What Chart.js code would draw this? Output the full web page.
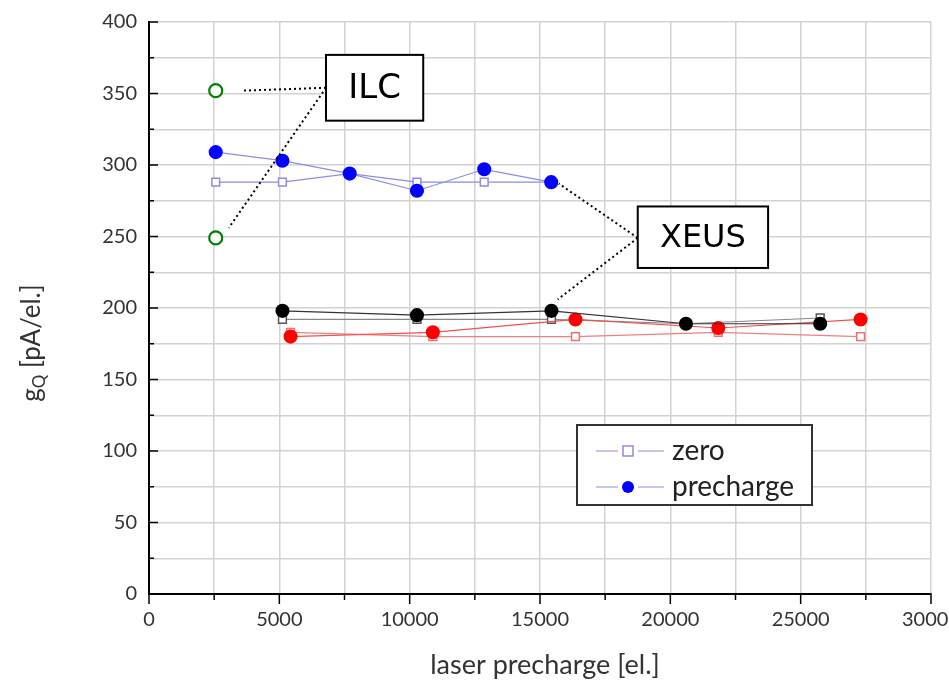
<!DOCTYPE html>
<html lang="en">
<head>
    <meta charset="UTF-8">
    <title>gQ vs laser precharge</title>
    <script src="https://cdn.jsdelivr.net/npm/chart.js"></script>
    <style>
        body { margin: 0; background: #fff; }
        #wrap { width: 949px; height: 687px; }
    </style>
</head>
<body>
    <div id="wrap"><canvas id="chart" width="949" height="687"></canvas></div>

    <script>
        // ILC points
        const ilcX = [2560, 2560];
        const ilcY = [352, 249];

        // XEUS blue series
        const blueX = [2560, 5120, 7700, 10280, 12860, 15430];
        const blueZero = [288, 288, 294, 288, 288, 288];
        const bluePre = [309, 303, 294, 282, 297, 288];

        // XEUS black series
        const blackX = [5120, 10280, 15440, 20600, 25750];
        const blackZero = [192, 192, 192, 189, 193];
        const blackPre = [198, 195, 198, 189, 189];

        // XEUS red series
        const redX = [5430, 10890, 16360, 21840, 27300];
        const redZero = [183, 180, 180, 183, 180];
        const redPre = [180, 183, 192, 186, 192];

        const yTicks = [0, 50, 100, 150, 200, 250, 300, 350, 400];
        const xTicks = [0, 5000, 10000, 15000, 20000, 25000, 30000];

        const pts = (xs, ys) => xs.map((x, i) => ({ x: x, y: ys[i] }));

        const tickFont = { family: 'Lato', size: 20 };

        const extras = {
            id: 'extras',
            afterDraw(chart) {
                const ctx = chart.ctx;
                const a = chart.chartArea;
                const xs = chart.scales.x, ys = chart.scales.y;
                const X = v => xs.getPixelForValue(v);
                const Y = v => ys.getPixelForValue(v);
                ctx.save();

                // tick marks
                ctx.strokeStyle = '#000';
                ctx.lineWidth = 1.5;
                for (let v = 0; v <= 400; v += 25) {
                    const len = v % 50 === 0 ? 9 : 5;
                    ctx.beginPath();
                    ctx.moveTo(a.left, Y(v));
                    ctx.lineTo(a.left + len, Y(v));
                    ctx.stroke();
                }
                for (let v = 0; v <= 30000; v += 2500) {
                    const len = v % 5000 === 0 ? 10 : 6;
                    ctx.beginPath();
                    ctx.moveTo(X(v), a.bottom);
                    ctx.lineTo(X(v), a.bottom + len);
                    ctx.stroke();
                }

                // axis titles
                ctx.fillStyle = '#333';
                ctx.font = '27px Lato';
                ctx.textAlign = 'center';
                ctx.textBaseline = 'middle';
                ctx.fillText('laser precharge [el.]', 545, 665);

                ctx.save();
                ctx.translate(32, 343);
                ctx.rotate(-Math.PI / 2);
                ctx.textAlign = 'left';
                const g = 'g', sub = 'Q', rest = ' [pA/el.]';
                ctx.font = '26px Lato';
                const wg = ctx.measureText(g).width;
                ctx.font = '17px Lato';
                const ws = ctx.measureText(sub).width;
                ctx.font = '26px Lato';
                const wr = ctx.measureText(rest).width;
                let sx = -(wg + ws + wr) / 2;
                ctx.fillText(g, sx, 0);
                sx += wg;
                ctx.font = '17px Lato';
                ctx.fillText(sub, sx, 8);
                sx += ws;
                ctx.font = '26px Lato';
                ctx.fillText(rest, sx, 0);
                ctx.restore();

                // leader lines
                ctx.strokeStyle = '#000';
                ctx.lineWidth = 2;
                ctx.setLineDash([2, 3]);
                const seg = (x1, y1, x2, y2) => {
                    ctx.beginPath();
                    ctx.moveTo(X(x1), Y(y1));
                    ctx.lineTo(X(x2), Y(y2));
                    ctx.stroke();
                };
                seg(6790, 354, 3600, 352);
                seg(6790, 354, 3060, 256);
                seg(18750, 249, 15720, 287);
                seg(18750, 249, 15680, 206);
                ctx.setLineDash([]);

                // label boxes
                const box = (x1, y1, x2, y2, text, size) => {
                    const l = X(x1), t = Y(y1), r = X(x2), b = Y(y2);
                    ctx.fillStyle = '#fff';
                    ctx.fillRect(l, t, r - l, b - t);
                    ctx.lineWidth = 2;
                    ctx.strokeStyle = '#000';
                    ctx.strokeRect(l, t, r - l, b - t);
                    ctx.fillStyle = '#000';
                    ctx.font = size + 'px "DejaVu Sans"';
                    ctx.textAlign = 'center';
                    ctx.textBaseline = 'middle';
                    ctx.fillText(text, (l + r) / 2, (t + b) / 2 + 1);
                };
                box(6790, 377, 10520, 331, 'ILC', 34);
                box(18750, 271, 23750, 228, 'XEUS', 32);

                // legend
                ctx.fillStyle = '#fff';
                ctx.fillRect(577, 425, 235, 80);
                ctx.strokeStyle = '#333';
                ctx.lineWidth = 2;
                ctx.strokeRect(577, 425, 235, 80);
                const rows = [
                    { y: 451, label: 'zero', sq: true },
                    { y: 487, label: 'precharge', sq: false }
                ];
                rows.forEach(row => {
                    ctx.strokeStyle = '#8c8ce6';
                    ctx.lineWidth = 1.2;
                    ctx.beginPath();
                    ctx.moveTo(596, row.y); ctx.lineTo(618, row.y);
                    ctx.moveTo(638, row.y); ctx.lineTo(664, row.y);
                    ctx.stroke();
                    if (row.sq) {
                        ctx.fillStyle = '#fff';
                        ctx.strokeStyle = '#8c8ce6';
                        ctx.lineWidth = 1.5;
                        ctx.fillRect(623, row.y - 5, 10, 10);
                        ctx.strokeRect(623, row.y - 5, 10, 10);
                    } else {
                        ctx.fillStyle = '#0000ff';
                        ctx.beginPath();
                        ctx.arc(628, row.y, 6, 0, Math.PI * 2);
                        ctx.fill();
                    }
                    ctx.fillStyle = '#222';
                    ctx.font = '28px Lato';
                    ctx.textAlign = 'left';
                    ctx.textBaseline = 'middle';
                    ctx.fillText(row.label, 672, row.y);
                });

                ctx.restore();
            }
        };

        const series = (label, xs, ys, opt) => Object.assign({
            label: label,
            data: pts(xs, ys),
            showLine: true,
            borderWidth: 1.2,
            pointBorderWidth: 1.5
        }, opt);

        new Chart(document.getElementById('chart'), {
            type: 'scatter',
            data: {
                datasets: [
                    series('ILC', ilcX, ilcY, {
                        showLine: false, pointStyle: 'circle', pointRadius: 6.5,
                        pointBorderColor: '#008000', pointBackgroundColor: '#fff', pointBorderWidth: 2.2
                    }),
                    series('precharge', blueX, bluePre, {
                        borderColor: '#8c8ce6', pointStyle: 'circle', pointRadius: 6.3,
                        pointBorderColor: '#0000ff', pointBackgroundColor: '#0000ff'
                    }),
                    series('black precharge', blackX, blackPre, {
                        borderColor: '#333', pointStyle: 'circle', pointRadius: 6.3,
                        pointBorderColor: '#000', pointBackgroundColor: '#000'
                    }),
                    series('red precharge', redX, redPre, {
                        borderColor: '#f05050', pointStyle: 'circle', pointRadius: 6.3,
                        pointBorderColor: '#ff0000', pointBackgroundColor: '#ff0000'
                    }),
                    series('zero', blueX, blueZero, {
                        borderColor: '#8c8ce6', pointStyle: 'rect', pointRadius: 5.5,
                        pointBorderColor: '#8c8ce6', pointBackgroundColor: '#fff'
                    }),
                    series('black zero', blackX, blackZero, {
                        borderColor: '#888', pointStyle: 'rect', pointRadius: 5.5,
                        pointBorderColor: '#555', pointBackgroundColor: '#fff'
                    }),
                    series('red zero', redX, redZero, {
                        borderColor: '#f08080', pointStyle: 'rect', pointRadius: 5.5,
                        pointBorderColor: '#f07070', pointBackgroundColor: '#fff'
                    })
                ]
            },
            options: {
                responsive: false,
                animation: false,
                layout: { padding: { left: 0, right: 18, top: 22, bottom: 0 } },
                plugins: {
                    legend: { display: false },
                    tooltip: { enabled: false }
                },
                scales: {
                    x: {
                        type: 'linear',
                        min: 0, max: 30000,
                        afterFit(s) { s.height = 93; s.paddingLeft = 0; s.paddingRight = 0; },
                        afterBuildTicks(s) {
                            const t = [];
                            for (let v = 0; v <= 30000; v += 2500) t.push({ value: v });
                            s.ticks = t;
                        },
                        ticks: {
                            font: tickFont, color: '#333', padding: 14, maxRotation: 0, autoSkip: false,
                            callback: v => xTicks.includes(v) ? String(v) : ''
                        },
                        grid: { color: '#d2d2d2', lineWidth: 1.5, drawTicks: false },
                        border: { display: true, color: '#000', width: 2 }
                    },
                    y: {
                        type: 'linear',
                        min: 0, max: 400,
                        afterFit(s) { s.width = 149; s.paddingTop = 0; s.paddingBottom = 0; },
                        afterBuildTicks(s) {
                            const t = [];
                            for (let v = 0; v <= 400; v += 25) t.push({ value: v });
                            s.ticks = t;
                        },
                        ticks: {
                            font: tickFont, color: '#333', padding: 12, autoSkip: false,
                            callback: v => yTicks.includes(v) ? String(v) : ''
                        },
                        grid: { color: '#d2d2d2', lineWidth: 1.5, drawTicks: false },
                        border: { display: true, color: '#000', width: 2 }
                    }
                }
            },
            plugins: [extras]
        });
    </script>
</body>
</html>
